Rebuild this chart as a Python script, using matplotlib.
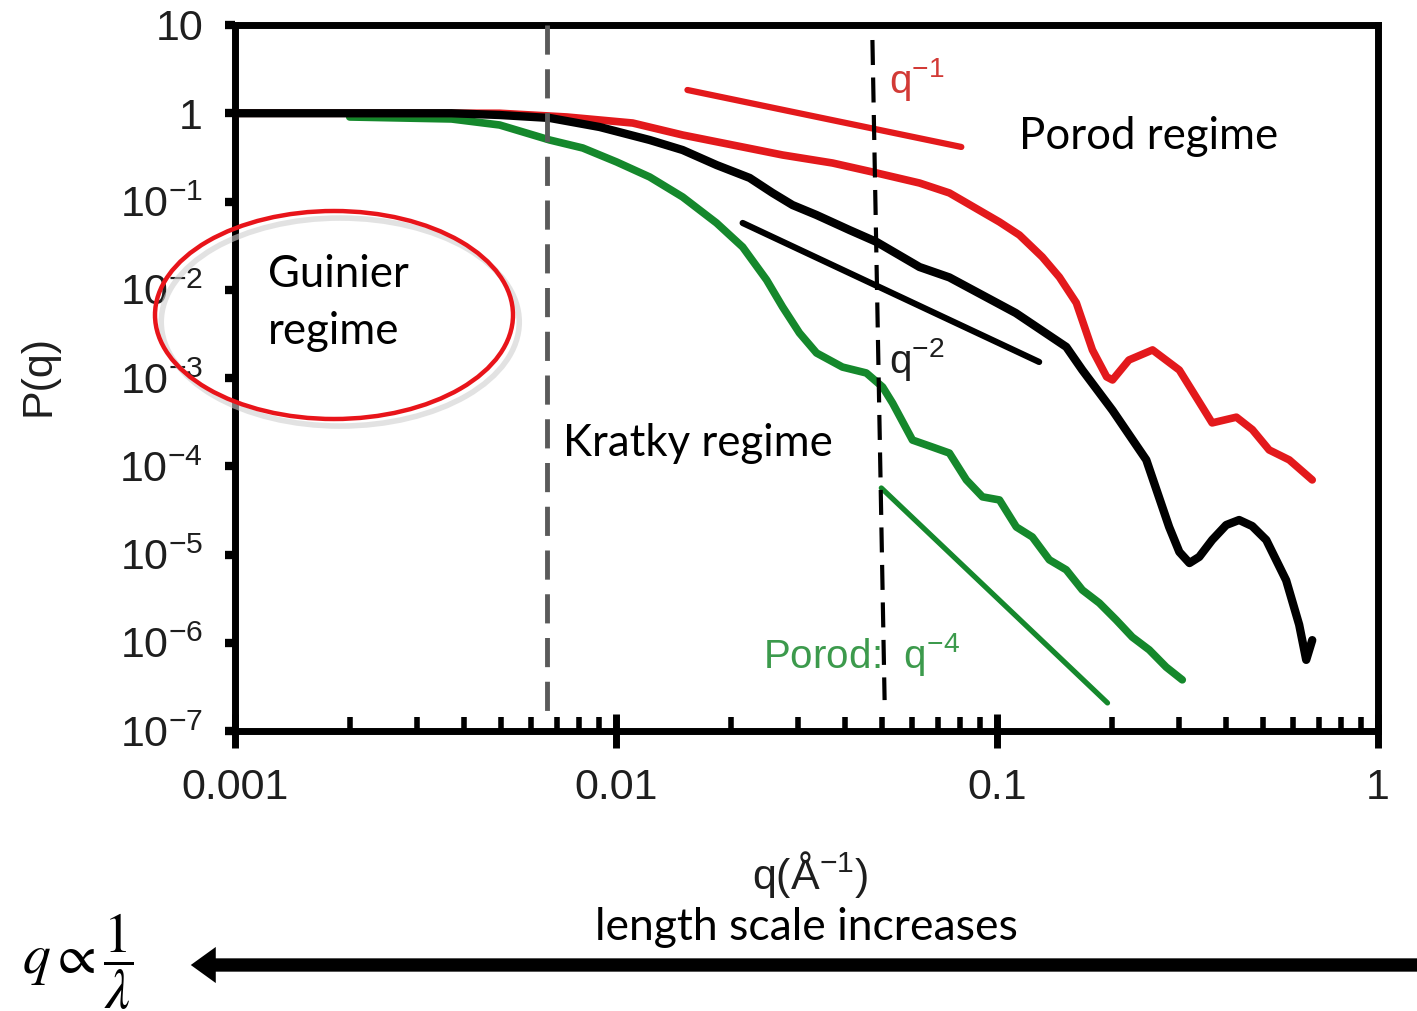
import numpy as np
import matplotlib
matplotlib.use('Agg')
import matplotlib.pyplot as plt
from matplotlib.patches import Ellipse, FancyArrowPatch

plt.rcParams['font.family'] = ['Liberation Sans', 'DejaVu Sans']

# Scattering curves (q in 1/Angstrom, P(q))
red_q = [0.001, 0.0027, 0.00495, 0.00743, 0.01106, 0.01496, 0.02023, 0.02737, 0.03701, 0.0471,
         0.0626, 0.075, 0.1015, 0.1145, 0.1315, 0.1458, 0.1615, 0.178, 0.194, 0.201,
         0.222, 0.256, 0.301, 0.333, 0.367, 0.425, 0.468, 0.518, 0.585, 0.672]
red_P = [1.0, 1.0, 1.0, 0.907, 0.775, 0.567, 0.437, 0.3365, 0.273, 0.216,
         0.162, 0.125, 0.0586, 0.0417, 0.0235, 0.0139, 0.0071, 0.00208, 0.00103, 0.00095,
         0.0016, 0.00208, 0.00123, 6.1e-4, 3.1e-4, 3.6e-4, 2.6e-4, 1.53e-4, 1.18e-4, 7.0e-5]

black_q = [0.001, 0.0037, 0.00495, 0.0067, 0.00906, 0.01226, 0.01496, 0.01836, 0.02243, 0.02576,
           0.02906, 0.0336, 0.041, 0.0483, 0.0626, 0.075, 0.112, 0.152, 0.1675, 0.201,
           0.2465, 0.283, 0.301, 0.32, 0.3395, 0.367, 0.3996, 0.432, 0.4675, 0.509,
           0.574, 0.621, 0.648, 0.672]
black_P = [1.0, 1.0, 0.955, 0.884, 0.698, 0.4975, 0.383, 0.259, 0.185, 0.125,
           0.0912, 0.0703, 0.0475, 0.0348, 0.0181, 0.0138, 0.00545, 0.00225, 0.00123, 4.3e-4,
           1.18e-4, 2.05e-5, 1.07e-5, 8.0e-6, 9.4e-6, 1.46e-5, 2.16e-5, 2.46e-5, 2.1e-5, 1.46e-5,
           5.1e-6, 1.6e-6, 6.4e-7, 1.07e-6]

green_q = [0.002, 0.0037, 0.00495, 0.0067, 0.00818, 0.01004, 0.01226, 0.01496, 0.01836, 0.0215,
           0.02485, 0.02737, 0.0303, 0.0336, 0.0393, 0.0454, 0.0501, 0.0532, 0.060, 0.0677,
           0.075, 0.0831, 0.0916, 0.1015, 0.1124, 0.1238, 0.1372, 0.152, 0.1675, 0.1856,
           0.2056, 0.2265, 0.251, 0.278, 0.3064]
green_P = [0.907, 0.861, 0.736, 0.4975, 0.404, 0.2804, 0.1895, 0.1125, 0.0571, 0.0305,
           0.0129, 0.00638, 0.00324, 0.00192, 0.00133, 0.00114, 7.9e-4, 5.2e-4, 1.98e-4, 1.65e-4,
           1.41e-4, 7.0e-5, 4.5e-5, 4.15e-5, 2.05e-5, 1.58e-5, 8.7e-6, 6.7e-6, 3.96e-6, 2.82e-6,
           1.81e-6, 1.16e-6, 8.3e-7, 5.3e-7, 3.8e-7]

# power-law guide lines (end points)
q1_q = [0.0154, 0.0806]
q1_P = [1.835, 0.415]
q2_q = [0.0215, 0.129]
q2_P = [0.0571, 0.00152]
q4_q = [0.0497, 0.195]
q4_P = [5.67e-5, 2.08e-7]

# regime boundaries
guinier_q = 0.0066
kratky_q = [0.0471, 0.0507]
kratky_P = [6.76, 2.24e-7]

x_ticks = [0.001, 0.01, 0.1, 1]
x_labels = ['0.001', '0.01', '0.1', '1']
y_ticks = [1e-7, 1e-6, 1e-5, 1e-4, 1e-3, 1e-2, 1e-1, 1, 10]
y_labels = [r'$\mathdefault{10^{-7}}$', r'$\mathdefault{10^{-6}}$', r'$\mathdefault{10^{-5}}$',
            r'$\mathdefault{10^{-4}}$', r'$\mathdefault{10^{-3}}$', r'$\mathdefault{10^{-2}}$',
            r'$\mathdefault{10^{-1}}$', '1', '10']

RED = '#e3191c'
GREEN = '#15882c'
TXT = '#1e1e1e'

fig = plt.figure(figsize=(14.17, 10.11), dpi=100)
ax = fig.add_axes([235 / 1417, 1 - 731 / 1011, (1378 - 235) / 1417, (731 - 25) / 1011])
ax.set_xscale('log')
ax.set_yscale('log')
ax.set_xlim(0.001, 1)
ax.set_ylim(1e-7, 10)

ax.plot(green_q, green_P, color=GREEN, lw=5.5, solid_capstyle='round', solid_joinstyle='round', zorder=3)
ax.plot(red_q, red_P, color=RED, lw=5.5, solid_capstyle='round', solid_joinstyle='round', zorder=3)
ax.plot(black_q, black_P, color='black', lw=6, solid_capstyle='round', solid_joinstyle='round', zorder=4)

ax.plot(q1_q, q1_P, color=RED, lw=4.5, solid_capstyle='round')
ax.plot(q2_q, q2_P, color='black', lw=4.5, solid_capstyle='round')
ax.plot(q4_q, q4_P, color=GREEN, lw=3.8, solid_capstyle='round')

ax.plot([guinier_q, guinier_q], [10, 1.3e-7], color='#5a5a5a', lw=3.5, dashes=(6, 3), zorder=5)
ax.plot(kratky_q, kratky_P, color='black', lw=3, dashes=(6, 3), zorder=5)

# labels on the curves
ax.text(0.0522, 2.4, r'$\mathdefault{q^{-1}}$', color='#d23a36', fontsize=29, va='center', ha='left')
ax.text(0.0522, 0.0016, r'$\mathdefault{q^{-2}}$', color=TXT, fontsize=29, va='center', ha='left')
ax.text(0.0243, 7.3e-7, r'$\mathdefault{Porod\!:\ q^{-4}}$', color='#3c9a4c', fontsize=29,
        va='center', ha='left')

reg = dict(family=['Lato', 'DejaVu Sans'], fontsize=31.5, color='black', va='center', ha='left')
ax.text(0.00725, 1.83e-4, 'Kratky regime', **reg)
ax.text(0.1145, 0.54, 'Porod regime', **reg)
ax.text(0.00122, 0.0071, 'Guinier\nregime', linespacing=1.5, **reg)

# axes styling
for s in ax.spines.values():
    s.set_linewidth(5)
ax.set_xticks(x_ticks)
ax.set_xticklabels(x_labels)
ax.set_yticks(y_ticks)
ax.set_yticklabels(y_labels)
ax.yaxis.set_minor_locator(matplotlib.ticker.NullLocator())
ax.tick_params(axis='x', which='major', direction='inout', length=25, width=5, pad=14,
               labelsize=31, labelcolor=TXT)
ax.tick_params(axis='x', which='minor', direction='in', length=10, width=4)
ax.tick_params(axis='y', which='major', direction='out', length=7, width=6, pad=16,
               labelsize=31, labelcolor=TXT)

# Guinier ellipse (spills over the y axis)
shadow = Ellipse((336 / 1417 + 0.003, 1 - 318 / 1011 - 0.004), 358 / 1417, 208 / 1011,
                 transform=fig.transFigure, fill=False, ec='#cfcfcf', lw=4, alpha=0.6)
fig.add_artist(shadow)
ell = Ellipse((334 / 1417, 1 - 315 / 1011), 358 / 1417, 208 / 1011,
              transform=fig.transFigure, fill=False, ec='#e8141a', lw=3.2)
fig.add_artist(ell)

fig.text(38 / 1417, 1 - 375 / 1011, 'P(q)', rotation=90, fontsize=31, color=TXT,
         ha='center', va='center')
fig.text(810 / 1417, 1 - 875 / 1011, r'q(Å$^{\mathdefault{-1}}$)', fontsize=31, color=TXT,
         ha='center', va='center')
fig.text(806 / 1417, 1 - 927 / 1011, 'length scale increases', family=['Lato', 'DejaVu Sans'],
         fontsize=32, ha='center', va='center')
fig.text(22 / 1417, 1 - 962 / 1011, r'$q \propto \dfrac{1}{\lambda}$', fontsize=40,
         math_fontfamily='stix', ha='left', va='center')

arrow = FancyArrowPatch((1.01, 1 - 965 / 1011), (188 / 1417, 1 - 965 / 1011),
                        transform=fig.transFigure,
                        arrowstyle='simple,head_length=0.45,head_width=0.65,tail_width=0.24',
                        mutation_scale=40, color='black', lw=0)
fig.add_artist(arrow)

fig.savefig('out.png', dpi=100)
